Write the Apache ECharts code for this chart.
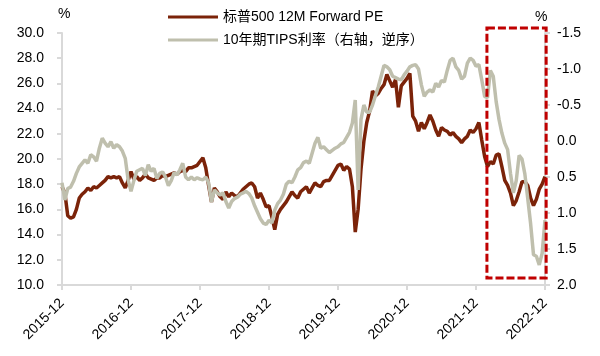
<!DOCTYPE html>
<html>
<head>
<meta charset="utf-8">
<script src="https://cdn.jsdelivr.net/npm/echarts@6/dist/echarts.min.js"></script>
<style>
html,body{margin:0;padding:0;background:#fff;}
#chart{width:600px;height:356px;}
</style>
</head>
<body>
<div id="chart"></div>
<script>
// Time grid: half-month steps starting 2015-12 (index * 0.5 = months since 2015-12)
const stepMonths = 0.5;
const tickLabels = ['2015-12','2016-12','2017-12','2018-12','2019-12','2020-12','2021-12','2022-12'];
const seriesNames = ['标普500 12M Forward PE', '10年期TIPS利率（右轴，逆序）'];

// S&P 500 12M forward PE (left axis)
const peValues = [
  17.8,17.3,15.5,15.3,15.4,16.0,16.9,17.2,17.4,17.7,17.5,17.8,17.7,17.9,18.1,18.3,18.6,18.5,18.6,18.5,18.6,18.1,17.7,18.3,
  19.0,18.4,18.6,18.3,18.5,18.8,18.5,18.4,18.3,18.5,18.5,18.7,18.6,18.7,18.8,18.9,18.8,19.0,19.1,19.0,19.3,19.3,19.4,19.5,
  19.8,20.1,19.3,17.9,16.6,17.7,17.4,17.0,16.8,17.4,17.0,17.3,17.1,17.0,17.3,17.6,17.8,18.0,18.1,17.8,16.9,17.3,16.8,16.2,
  16.3,15.4,14.4,15.6,16.0,16.3,16.6,17.0,17.4,17.1,16.9,17.4,17.6,17.8,17.3,17.7,18.1,17.9,17.8,18.2,18.3,18.3,18.7,19.1,
  19.5,19.6,19.1,19.4,19.2,17.8,14.2,16.0,19.2,21.4,22.9,23.8,25.4,25.0,25.2,25.6,25.9,26.7,26.2,25.7,26.3,24.1,25.8,26.1,
  26.4,26.8,23.4,23.0,22.2,22.9,22.4,22.9,23.5,23.0,22.3,21.8,22.5,22.3,22.2,21.9,22.1,21.8,21.6,21.3,21.6,21.8,22.3,22.1,
  22.4,22.9,21.5,20.2,19.4,19.8,19.6,20.3,20.4,19.4,18.3,17.9,17.3,16.3,16.7,17.4,18.2,18.2,17.9,16.9,16.3,16.8,17.6,18.0,
  18.6
];

// 10Y TIPS yield, % (right axis, inverted)
const tipsValues = [
  0.58,0.82,0.66,0.64,0.56,0.45,0.36,0.31,0.26,0.31,0.19,0.22,0.28,0.10,-0.04,0.03,0.08,0.01,0.10,0.05,0.08,0.14,0.24,0.54,
  0.70,0.55,0.42,0.40,0.38,0.48,0.33,0.42,0.38,0.52,0.45,0.43,0.50,0.62,0.55,0.44,0.47,0.40,0.31,0.50,0.54,0.50,0.54,0.51,
  0.53,0.54,0.50,0.58,0.85,0.68,0.72,0.75,0.72,0.84,0.93,0.84,0.80,0.78,0.74,0.72,0.70,0.73,0.79,0.90,0.99,1.08,1.14,1.16,
  1.10,1.14,0.96,0.87,0.82,0.74,0.60,0.56,0.58,0.50,0.40,0.37,0.30,0.28,0.31,0.17,0.03,-0.05,0.10,0.08,0.12,0.16,0.13,0.10,
  0.08,0.04,0.02,-0.05,-0.12,-0.25,-0.57,0.68,-0.30,-0.50,-0.40,-0.40,-0.50,-0.63,-0.75,-0.90,-1.05,-1.03,-0.99,-0.90,-0.88,-0.86,-0.85,-0.92,
  -0.97,-1.03,-1.05,-1.06,-1.00,-0.78,-0.62,-0.68,-0.71,-0.68,-0.80,-0.75,-0.84,-0.82,-0.98,-1.12,-1.15,-1.03,-0.98,-0.86,-0.90,-1.08,-1.15,-1.12,
  -1.04,-1.06,-0.85,-0.62,-0.60,-0.98,-0.90,-0.55,-0.30,-0.11,0.03,0.12,0.45,0.72,0.55,0.20,0.25,0.46,0.80,1.15,1.58,1.60,1.72,1.56,
  1.10
];

// highlighted window (months since 2015-12, PE-axis values)
const boxMonths = [73.9, 84.2];
const boxPE = [30.4, 10.55];

const FONT = '"Liberation Sans", Arial, "Noto Sans CJK SC", sans-serif';
const AX = '#D9D9D9';
const RED = '#7B2309';
const GREY = '#BFBFAD';

const chart = echarts.init(document.getElementById('chart'), null, {renderer: 'canvas'});
const option = {
  animation: false,
  textStyle: {fontFamily: FONT, color: '#000'},
  grid: {left: 62, right: 55, top: 33, bottom: 71},
  legend: {
    orient: 'vertical', left: 163, top: 4, itemWidth: 50, itemHeight: 3, itemGap: 7,
    icon: 'rect',
    textStyle: {fontFamily: FONT, fontSize: 14, color: '#000', lineHeight: 16},
    data: seriesNames
  },
  xAxis: {
    type: 'value', min: 0, max: 84, interval: 12,
    axisLine: {onZero: false, lineStyle: {color: AX, width: 2}},
    axisTick: {show: true, length: 5, lineStyle: {color: AX, width: 2}},
    splitLine: {show: false},
    axisLabel: {
      rotate: 45, margin: 16, fontSize: 14, color: '#000', fontFamily: FONT,
      formatter: v => tickLabels[Math.round(v / 12)] || ''
    }
  },
  yAxis: [
    {
      type: 'value', min: 10, max: 30, interval: 2,
      axisLine: {show: true, onZero: false, lineStyle: {color: AX, width: 2}},
      axisTick: {show: true, length: 5, lineStyle: {color: AX, width: 2}},
      splitLine: {show: false},
      axisLabel: {margin: 18, fontSize: 14, color: '#000', fontFamily: FONT, formatter: v => v.toFixed(1)}
    },
    {
      type: 'value', min: -1.5, max: 2.0, interval: 0.5, inverse: true,
      axisLine: {show: true, onZero: false, lineStyle: {color: AX, width: 2}},
      axisTick: {show: true, length: 5, lineStyle: {color: AX, width: 2}},
      splitLine: {show: false},
      axisLabel: {margin: 12, fontSize: 14, color: '#000', fontFamily: FONT, formatter: v => v.toFixed(1)}
    }
  ],
  series: [
    {
      name: seriesNames[0], type: 'line', yAxisIndex: 0, showSymbol: false, symbol: 'none',
      lineStyle: {color: RED, width: 3.5}, itemStyle: {color: RED},
      data: peValues.map((v, i) => [i * stepMonths, v])
    },
    {
      name: seriesNames[1], type: 'line', yAxisIndex: 1, showSymbol: false, symbol: 'none',
      lineStyle: {color: GREY, width: 3.5}, itemStyle: {color: GREY},
      data: tipsValues.map((v, i) => [i * stepMonths, v])
    }
  ]
};
chart.setOption(option);

const p1 = chart.convertToPixel({gridIndex: 0}, [boxMonths[0], boxPE[0]]);
const p2 = chart.convertToPixel({gridIndex: 0}, [boxMonths[1], boxPE[1]]);
chart.setOption({
  graphic: [
    {type: 'text', left: 58, top: 7, style: {text: '%', font: '14px ' + FONT, fill: '#000'}},
    {type: 'text', left: 535, top: 10, style: {text: '%', font: '14px ' + FONT, fill: '#000'}},
    {
      type: 'rect', z: 100,
      shape: {x: p1[0], y: p1[1], width: p2[0] - p1[0], height: p2[1] - p1[1]},
      style: {fill: 'none', stroke: '#C00000', lineWidth: 3, lineDash: [8, 3]}
    }
  ]
});
</script>
</body>
</html>
